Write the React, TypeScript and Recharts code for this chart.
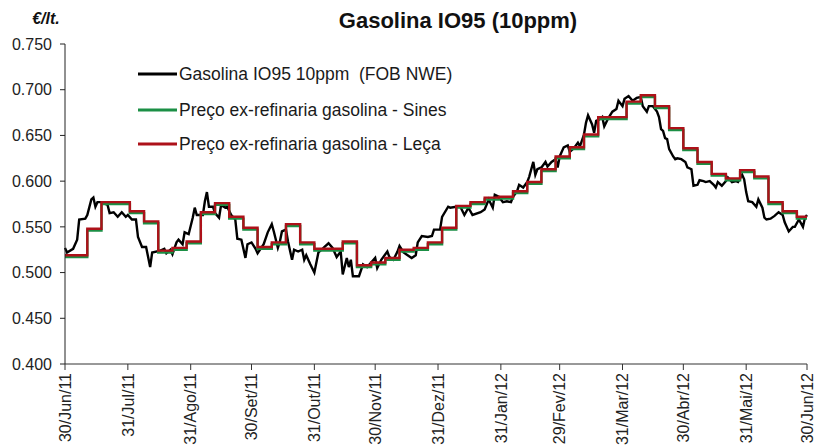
import { LineChart, Line, XAxis, YAxis } from 'recharts'

// x positions are days counted from 30/Jun/2011
const tickDays = [0, 31, 62, 92, 123, 153, 184, 215, 244, 275, 305, 336, 366]
const tickLabels = [
  '30/Jun/11', '31/Jul/11', '31/Ago/11', '30/Set/11', '31/Out/11', '30/Nov/11', '31/Dez/11',
  '31/Jan/12', '29/Fev/12', '31/Mar/12', '30/Abr/12', '31/Mai/12', '30/Jun/12',
]
const priceTicks = [0.4, 0.45, 0.5, 0.55, 0.6, 0.65, 0.7, 0.75]

// Gasolina IO95 10ppm (FOB NWE), daily quotes
const fobDays = [
  0, 1, 4, 6, 7, 10, 11, 13, 14, 15, 16, 18, 21, 22, 24, 26, 28, 30, 31, 33, 35, 36, 38, 40, 41, 42, 43,
  47, 49, 50, 52, 53, 55, 56, 58, 59, 61, 63, 64, 65, 68, 69, 70, 71, 73, 74, 76, 77, 79, 80, 82, 84,
  85, 87, 89, 90, 92, 94, 95, 98, 100, 102, 103, 105, 106, 107, 109, 110, 112, 113, 115, 117, 118,
  119, 121, 123, 125, 127, 128, 130, 132, 133, 134, 136, 137, 139, 140, 141, 142, 145, 147, 149, 151,
  153, 154, 156, 159, 160, 162, 164, 165, 167, 169, 171, 173, 174, 176, 179, 181, 182, 185, 186, 189,
  190, 193, 195, 197, 199, 201, 205, 207, 209, 211, 212, 214, 216, 218, 220, 221, 223, 224, 226, 228,
  229, 231, 232, 233, 235, 237, 238, 240, 242, 243, 244, 246, 248, 249, 251, 253, 254, 256, 257, 258,
  260, 261, 262, 264, 265, 266, 268, 270, 272, 273, 275, 276, 278, 280, 282, 284, 285, 287, 288, 290,
  292, 293, 294, 295, 296, 297, 298, 300, 301, 302, 304, 306, 307, 309, 310, 312, 313, 315, 316, 318,
  320, 321, 322, 324, 326, 327, 329, 331, 332, 334, 335, 336, 337, 339, 341, 342, 344, 345, 346, 348,
  350, 352, 354, 355, 357, 359, 360, 362, 364, 365, 366,
]
const fobPrices = [
  0.527, 0.522, 0.526, 0.536, 0.558, 0.559, 0.563, 0.58, 0.582, 0.572, 0.577, 0.577, 0.574, 0.565,
  0.566, 0.561, 0.566, 0.561, 0.563, 0.558, 0.558, 0.539, 0.528, 0.528, 0.517, 0.506, 0.522,
  0.524, 0.526, 0.521, 0.525, 0.52, 0.533, 0.536, 0.531, 0.544, 0.542, 0.56, 0.571, 0.563, 0.563,
  0.578, 0.588, 0.572, 0.572, 0.565, 0.56, 0.574, 0.571, 0.572, 0.563, 0.558,
  0.537, 0.536, 0.516, 0.531, 0.533, 0.526, 0.521, 0.531, 0.544, 0.553, 0.545, 0.527, 0.534, 0.545,
  0.547, 0.534, 0.514, 0.525, 0.523, 0.525, 0.514,
  0.519, 0.509, 0.5, 0.522, 0.526, 0.528, 0.532, 0.527, 0.522, 0.517, 0.523, 0.498, 0.516, 0.506,
  0.514, 0.496, 0.496, 0.509, 0.506, 0.511,
  0.516, 0.505, 0.514, 0.523, 0.517, 0.514, 0.523, 0.529, 0.522, 0.519, 0.516, 0.519, 0.533, 0.54,
  0.539, 0.54, 0.547, 0.547, 0.561, 0.572,
  0.571, 0.572, 0.572, 0.563, 0.571, 0.563, 0.566, 0.569, 0.58, 0.571, 0.585, 0.583, 0.577, 0.578,
  0.577, 0.583, 0.589, 0.596, 0.593, 0.599,
  0.605, 0.621, 0.607, 0.613, 0.615, 0.621, 0.616, 0.621, 0.624, 0.615, 0.627, 0.637, 0.639, 0.632,
  0.636, 0.642, 0.638, 0.651, 0.664, 0.672,
  0.662, 0.653, 0.666, 0.668, 0.67, 0.66, 0.669, 0.676, 0.679, 0.688, 0.682, 0.69, 0.693, 0.688,
  0.691, 0.692, 0.682, 0.676, 0.682, 0.682,
  0.676, 0.67, 0.657, 0.655, 0.647, 0.646, 0.635, 0.627, 0.624, 0.625, 0.624, 0.621, 0.615, 0.613,
  0.595, 0.596, 0.601, 0.6, 0.599, 0.6,
  0.596, 0.593, 0.599, 0.595, 0.6, 0.604, 0.599, 0.6, 0.599, 0.607, 0.602, 0.588, 0.578, 0.577,
  0.572, 0.58, 0.571, 0.56, 0.558, 0.559,
  0.562, 0.566, 0.563, 0.555, 0.545, 0.55, 0.55, 0.558, 0.55, 0.56, 0.563,
]

// weekly ex-refinery prices, each held until the next change
const stepDays = [
  0, 11, 18, 25, 32, 39, 46, 53, 60, 67, 74, 81, 88, 95, 102, 109, 116, 123, 130, 137, 144, 151, 158,
  165, 172, 179, 186, 193, 200, 207, 214, 221, 228, 235, 242, 249, 256, 263, 270, 277, 284, 291, 298,
  305, 312, 319, 326, 333, 340, 347, 354, 361, 366,
]
const sinesPrices = [
  0.517, 0.546, 0.575, 0.575, 0.565, 0.554, 0.522, 0.525, 0.532, 0.564, 0.574, 0.559, 0.547, 0.526,
  0.531, 0.551, 0.531, 0.524, 0.524, 0.532, 0.506, 0.509, 0.514, 0.523, 0.525, 0.531, 0.547, 0.571,
  0.575, 0.58, 0.581, 0.587, 0.597, 0.611, 0.625, 0.635, 0.649, 0.668, 0.668, 0.685, 0.692, 0.68,
  0.656, 0.634, 0.619, 0.606, 0.601, 0.61, 0.603, 0.575, 0.565, 0.559, 0.559,
]
const lecaPrices = [
  0.519, 0.548, 0.577, 0.577, 0.567, 0.556, 0.524, 0.527, 0.534, 0.566, 0.576, 0.561, 0.549, 0.528,
  0.533, 0.553, 0.533, 0.526, 0.526, 0.534, 0.508, 0.511, 0.516, 0.525, 0.527, 0.533, 0.549, 0.573,
  0.577, 0.582, 0.583, 0.589, 0.599, 0.613, 0.627, 0.637, 0.651, 0.67, 0.67, 0.687, 0.694, 0.682,
  0.658, 0.636, 0.621, 0.608, 0.603, 0.612, 0.605, 0.577, 0.567, 0.561, 0.561,
]

const seriesNames = [
  'Gasolina IO95 10ppm  (FOB NWE)',
  'Preço ex-refinaria gasolina - Sines',
  'Preço ex-refinaria gasolina - Leça',
]
const seriesColors = ['#000000', '#1b8f45', '#ad1119']

type Row = { day: number; fob?: number; sines?: number; leca?: number }

function buildRows(): Row[] {
  const byDay = new Map<number, Row>()
  const get = (d: number) => {
    if (!byDay.has(d)) byDay.set(d, { day: d })
    return byDay.get(d)!
  }
  fobDays.forEach((d, i) => { get(d).fob = fobPrices[i] })
  stepDays.forEach((d, i) => {
    get(d).sines = sinesPrices[i]
    get(d).leca = lecaPrices[i]
  })
  return [...byDay.values()].sort((a, b) => a.day - b.day)
}

const rows = buildRows()
const FONT = '"Liberation Sans", Arial, sans-serif'

function DateTick({ x, y, payload }: any) {
  const idx = tickDays.indexOf(payload.value)
  return (
    <g transform={`translate(${x},${y})`}>
      <text transform="rotate(-90)" textAnchor="end" x={-1} dy="0.36em" fontSize={16} fill="#222" fontFamily={FONT}>
        {tickLabels[idx]}
      </text>
    </g>
  )
}

export default function App() {
  return (
    <div style={{ position: 'absolute', left: 0, top: 0, width: 817, height: 448, background: '#fff', fontFamily: FONT, overflow: 'hidden' }}>
      <LineChart width={817} height={448} data={rows} margin={{ top: 44, right: 10, left: 0, bottom: 0 }}>
        <XAxis
          dataKey="day"
          type="number"
          domain={[0, 366]}
          ticks={tickDays}
          interval={0}
          height={84}
          tickSize={6}
          tick={<DateTick />}
          stroke="#333"
        />
        <YAxis
          type="number"
          domain={[0.4, 0.75]}
          ticks={priceTicks}
          interval={0}
          width={65}
          tickSize={5}
          tickMargin={8}
          tickFormatter={(v: number) => v.toFixed(3)}
          tick={{ fontSize: 16, fill: '#222', fontFamily: FONT }}
          stroke="#222"
        />
        <Line dataKey="fob" type="linear" stroke={seriesColors[0]} strokeWidth={2.4} dot={false} connectNulls isAnimationActive={false} />
        <Line dataKey="sines" type="stepAfter" stroke={seriesColors[1]} strokeWidth={2.4} dot={false} connectNulls isAnimationActive={false} />
        <Line dataKey="leca" type="stepAfter" stroke={seriesColors[2]} strokeWidth={2.4} dot={false} connectNulls isAnimationActive={false} />
      </LineChart>

      <div style={{ position: 'absolute', left: 458, top: 21, transform: 'translate(-50%, -50%)', fontSize: 22, fontWeight: 'bold', color: '#111', whiteSpace: 'nowrap' }}>
        Gasolina IO95 (10ppm)
      </div>
      <div style={{ position: 'absolute', left: 46, top: 19, transform: 'translate(-50%, -50%)', fontSize: 16, fontWeight: 'bold', fontStyle: 'italic', color: '#111', whiteSpace: 'nowrap' }}>
        €/lt.
      </div>

      {seriesNames.map((name, i) => (
        <div key={name} style={{ position: 'absolute', left: 138, top: [74, 110, 144][i], transform: 'translateY(-50%)', display: 'flex', alignItems: 'center', whiteSpace: 'pre' }}>
          <div style={{ width: 39, height: 2.5, background: seriesColors[i] }} />
          <span style={{ fontSize: 17.5, color: '#1a1a1a', marginLeft: 2 }}>{name}</span>
        </div>
      ))}
    </div>
  )
}
